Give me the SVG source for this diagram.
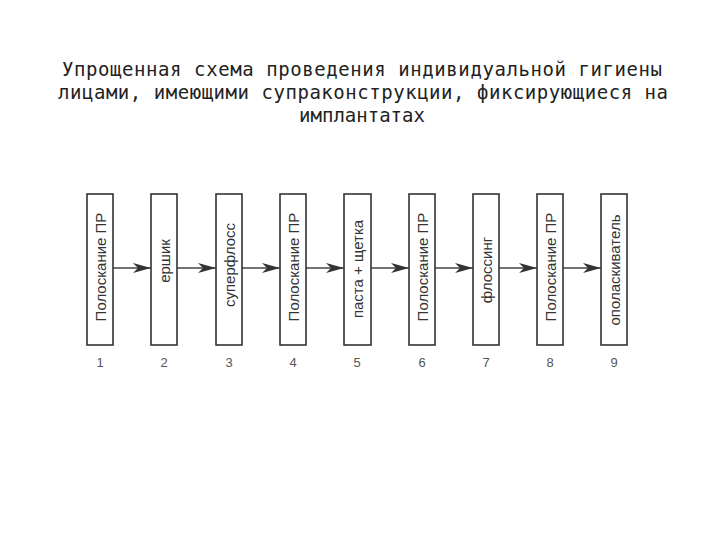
<svg xmlns="http://www.w3.org/2000/svg" width="720" height="540" viewBox="0 0 720 540">
<defs>
<marker id="arr" viewBox="0 0 18 10" refX="18" refY="5" markerWidth="18" markerHeight="10" markerUnits="userSpaceOnUse" orient="auto">
<path d="M0,0 L18,5 L0,10 L5,5 Z" fill="#333"/>
</marker>
<style>
.title{font-family:"DejaVu Sans Mono",monospace;font-size:19px;fill:#222;text-anchor:middle}
.box{fill:#fff;stroke:#333;stroke-width:1.6}
.lbl{font-family:"Liberation Sans",Arial,sans-serif;font-size:15px;fill:#333;text-anchor:middle;dominant-baseline:central}
.num{font-family:"Liberation Sans",Arial,sans-serif;font-size:13px;fill:#555;text-anchor:middle}
.conn{stroke:#444;stroke-width:1.4;fill:none;marker-end:url(#arr)}
</style>
</defs>
<rect width="720" height="540" fill="#fff"/>
<g id="title">
<text class="title" x="362" y="76" textLength="600" lengthAdjust="spacing">Упрощенная схема проведения индивидуальной гигиены</text>
<text class="title" x="363" y="99" textLength="610" lengthAdjust="spacing">лицами, имеющими супраконструкции, фиксирующиеся на</text>
<text class="title" x="362" y="122">имплантатах</text>
</g>
<g id="connectors">
<line class="conn" x1="113" y1="268" x2="151" y2="268"/>
<line class="conn" x1="177" y1="268" x2="216" y2="268"/>
<line class="conn" x1="242" y1="268" x2="280" y2="268"/>
<line class="conn" x1="306" y1="268" x2="344" y2="268"/>
<line class="conn" x1="371" y1="268" x2="409" y2="268"/>
<line class="conn" x1="435" y1="268" x2="473" y2="268"/>
<line class="conn" x1="499" y1="268" x2="537" y2="268"/>
<line class="conn" x1="563" y1="268" x2="601" y2="268"/>
</g>
<g id="n1"><rect class="box" x="87" y="194" width="26" height="151"/><text class="lbl" transform="translate(100,267) rotate(-90)">Полоскание ПР</text><text class="num" x="100" y="367">1</text></g>
<g id="n2"><rect class="box" x="151" y="194" width="26" height="151"/><text class="lbl" transform="translate(164,261) rotate(-90)">ершик</text><text class="num" x="164" y="367">2</text></g>
<g id="n3"><rect class="box" x="216" y="194" width="26" height="151"/><text class="lbl" transform="translate(229,265) rotate(-90)">суперфлосс</text><text class="num" x="229" y="367">3</text></g>
<g id="n4"><rect class="box" x="280" y="194" width="26" height="151"/><text class="lbl" transform="translate(293,267) rotate(-90)">Полоскание ПР</text><text class="num" x="293" y="367">4</text></g>
<g id="n5"><rect class="box" x="344" y="194" width="27" height="151"/><text class="lbl" transform="translate(357.5,269) rotate(-90)">паста + щетка</text><text class="num" x="357" y="367">5</text></g>
<g id="n6"><rect class="box" x="409" y="194" width="26" height="151"/><text class="lbl" transform="translate(422,267) rotate(-90)">Полоскание ПР</text><text class="num" x="422" y="367">6</text></g>
<g id="n7"><rect class="box" x="473" y="194" width="26" height="151"/><text class="lbl" transform="translate(486,270) rotate(-90)">флоссинг</text><text class="num" x="486" y="367">7</text></g>
<g id="n8"><rect class="box" x="537" y="194" width="26" height="151"/><text class="lbl" transform="translate(550,267) rotate(-90)">Полоскание ПР</text><text class="num" x="550" y="367">8</text></g>
<g id="n9"><rect class="box" x="601" y="194" width="26" height="151"/><text class="lbl" transform="translate(614,270) rotate(-90)">ополаскиватель</text><text class="num" x="614" y="367">9</text></g>
</svg>
